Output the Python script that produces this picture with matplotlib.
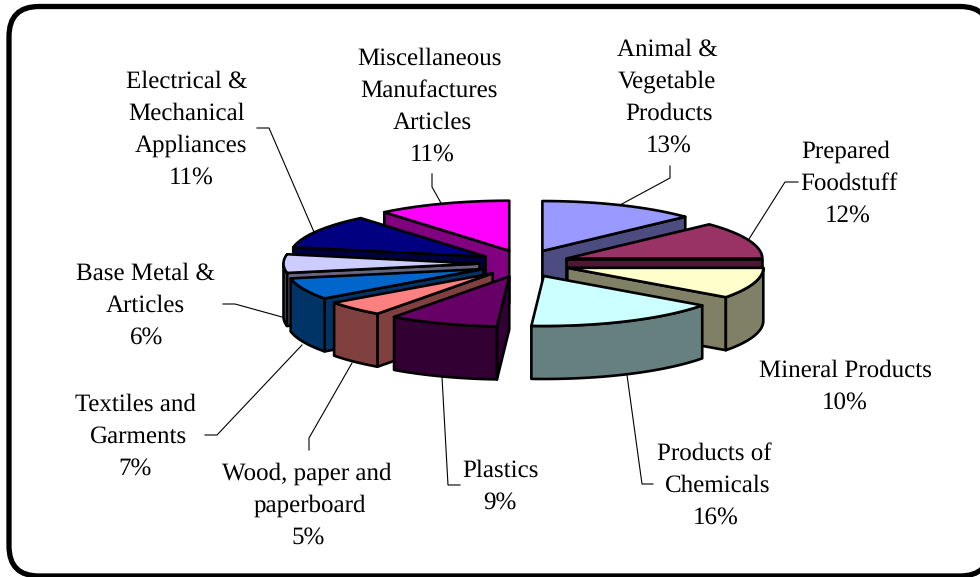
import numpy as np
import matplotlib
matplotlib.use("Agg")
import matplotlib.pyplot as plt
from matplotlib.patches import FancyBboxPatch

plt.rcParams['text.hinting'] = 'no_hinting'
plt.rcParams['text.hinting_factor'] = 1

# Share of each category, percent, clockwise from 12 o'clock
categories = ["Animal &\nVegetable\nProducts", "Prepared\nFoodstuff", "Mineral Products",
              "Products of\nChemicals", "Plastics", "Wood, paper and\npaperboard",
              "Textiles and\nGarments", "Base Metal &\nArticles",
              "Electrical &\nMechanical\nAppliances", "Miscellaneous\nManufactures\nArticles"]
values = [13, 12, 10, 16, 9, 5, 7, 6, 11, 11]

top_colors = ["#9999FF", "#993366", "#FFFFCC", "#CCFFFF", "#660066",
              "#FF8080", "#0066CC", "#CCCCFF", "#000080", "#FF00FF"]
wall_colors = ["#4C4C80", "#4C1933", "#808066", "#668080", "#330033",
               "#804040", "#003366", "#666680", "#000040", "#800080"]

# Pie geometry in pixels
CX, CY = 524.5, 263.6
RX, RY = 196, 50
DEPTH = 53
EXPLODE_X, EXPLODE_Y = 45, 13.7
EDGE = 1.9

# label centre x, first line centre y
label_pos = [(667, 48), (846, 150), (845, 369), (714, 452), (500, 469),
             (307, 472), (135, 403), (145, 272), (187, 80), (429, 57)]
# per line x shift, the original lines are not quite centred on each other
line_shift = [[0, 0, 2, 2], [0, 3, 2], [0, 0], [0, 4, 2], [0, 0],
              [0, 3, 1], [0, 3.5, 0], [0, 0, 2], [0, 0, 4, 4], [0, 0, 3, 3]]
LINE_H = 32

leaders = [
    [(670, 166), (670, 178), (620, 205)],
    [(798, 182), (785, 182), (749, 239)],
    None,
    [(653, 484), (642, 484), (627, 375)],
    [(460, 485), (448, 485), (442, 377)],
    [(309, 450), (309, 438), (352, 363)],
    [(205, 435), (217, 435), (302, 345)],
    [(223, 304), (235, 304), (282, 317)],
    [(257, 128), (269, 128), (314, 232)],
    [(432, 174), (432, 187), (441, 203)],
]

fig = plt.figure(figsize=(9.8, 5.77), dpi=100)
ax = fig.add_axes([0, 0, 1, 1])
ax.set_xlim(0, 980)
ax.set_ylim(577, 0)
ax.axis("off")

# Rounded frame, runs off the right and bottom edge
ax.add_patch(FancyBboxPatch((9 + 30, 6.5 + 30), 990 - 9 - 60, 576 - 6.5 - 60,
                            boxstyle="round,pad=30,rounding_size=30",
                            fc="white", ec="black", lw=3.8, zorder=0))


def ell(theta, cx, cy, drop=0):
    return np.column_stack([cx + RX * np.sin(theta), cy - RY * np.cos(theta) + drop])


fracs = np.array(values) / sum(values)
stops = np.concatenate([[0], np.cumsum(fracs)]) * 2 * np.pi

slices = []
for i in range(len(values)):
    t0, t1 = stops[i], stops[i + 1]
    mid = (t0 + t1) / 2
    slices.append((t0, t1, CX + EXPLODE_X * np.sin(mid), CY - EXPLODE_Y * np.cos(mid), i))

# back to front
slices.sort(key=lambda s: s[3])

z = 2
for t0, t1, cx, cy, i in slices:
    style = dict(fc=wall_colors[i], ec="black", lw=EDGE, joinstyle="round")
    apex = np.array([cx, cy])

    # cut faces that look towards the viewer
    if np.sin(t0) < 0:
        p = ell(np.array([t0]), cx, cy)[0]
        ax.fill([cx, p[0], p[0], cx], [cy, p[1], p[1] + DEPTH, cy + DEPTH], zorder=z, **style)
    if np.sin(t1) > 0:
        p = ell(np.array([t1]), cx, cy)[0]
        ax.fill([cx, p[0], p[0], cx], [cy, p[1], p[1] + DEPTH, cy + DEPTH], zorder=z, **style)

    # rim, only the part on the near half
    a, b = max(t0, np.pi / 2), min(t1, 3 * np.pi / 2)
    if b > a:
        th = np.linspace(a, b, 60)
        upper = ell(th, cx, cy)
        lower = ell(th[::-1], cx, cy, DEPTH)
        rim = np.vstack([upper, lower])
        ax.fill(rim[:, 0], rim[:, 1], zorder=z, **style)

    # top face
    th = np.linspace(t0, t1, 80)
    top = np.vstack([apex, ell(th, cx, cy)])
    ax.fill(top[:, 0], top[:, 1], fc=top_colors[i], ec="black", lw=EDGE,
            joinstyle="round", zorder=z)
    z += 1

for pts in leaders:
    if pts is None:
        continue
    xs, ys = zip(*pts)
    ax.plot(xs, ys, color="black", lw=0.8, zorder=1)

for name, val, (x, y), shifts in zip(categories, values, label_pos, line_shift):
    lines = name.split("\n") + [f"{val}%"]
    for n, line in enumerate(lines):
        ax.text(x + shifts[n], y + n * LINE_H + 8, line, ha="center", va="baseline",
                family="Liberation Serif", fontsize=17.9, color="black", zorder=50)

fig.savefig("out.png", dpi=100)
